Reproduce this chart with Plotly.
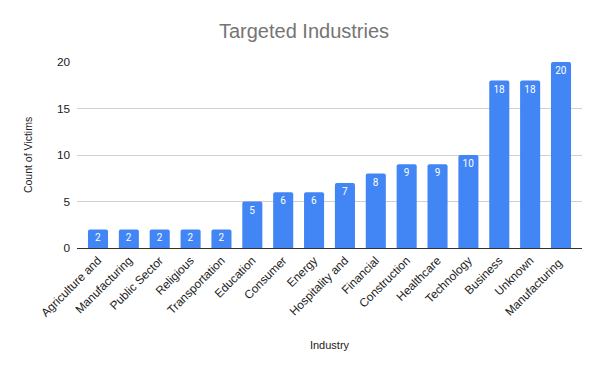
import plotly.graph_objects as go

categories = ["Agriculture and", "Manufacturing", "Public Sector", "Religious", "Transportation",
              "Education", "Consumer", "Energy", "Hospitality and", "Financial", "Construction",
              "Healthcare", "Technology", "Business", "Unknown", "Manufacturing "]
values = [2, 2, 2, 2, 2, 5, 6, 6, 7, 8, 9, 9, 10, 18, 18, 20]
y_ticks = [0, 5, 10, 15, 20]

# page body has an 8px default margin, so the figure is sized/offset to compensate
fig = go.Figure(go.Bar(
    x=categories, y=values, text=values, textposition="inside", insidetextanchor="end",
    textfont=dict(color="white", size=10, family="Roboto"), marker_color="#4285F4",
    marker_line_width=0, textangle=0, marker_cornerradius=2,
))
fig.update_layout(
    width=592, height=363, plot_bgcolor="white", paper_bgcolor="white",
    margin=dict(l=69, r=18, t=54, b=123), bargap=0.35, showlegend=False,
    font=dict(family="Arial", color="#222222", size=11),
    title=dict(text="Targeted Industries", x=0.5, xanchor="center", y=0.937, yanchor="middle",
               font=dict(size=20, color="#757575", family="Arial")),
)
fig.update_xaxes(tickangle=-45, range=[-0.68, 15.68], showline=True, linecolor="#333333",
                 linewidth=1, ticks="", tickfont=dict(size=11.8, color="#222222"), automargin=False,
                 title=dict(text="Industry", font=dict(size=11, color="#222222"), standoff=22))
fig.update_yaxes(range=[0, 20], tickvals=y_ticks, gridcolor="#d0d0d0", zeroline=False,
                 tickfont=dict(size=11.8, color="#222222"), ticks="", ticklabelstandoff=6,
                 automargin=False,
                 title=dict(text="Count of Victims", font=dict(size=10.5, color="#222222"), standoff=22))
fig.write_html("out.html")
